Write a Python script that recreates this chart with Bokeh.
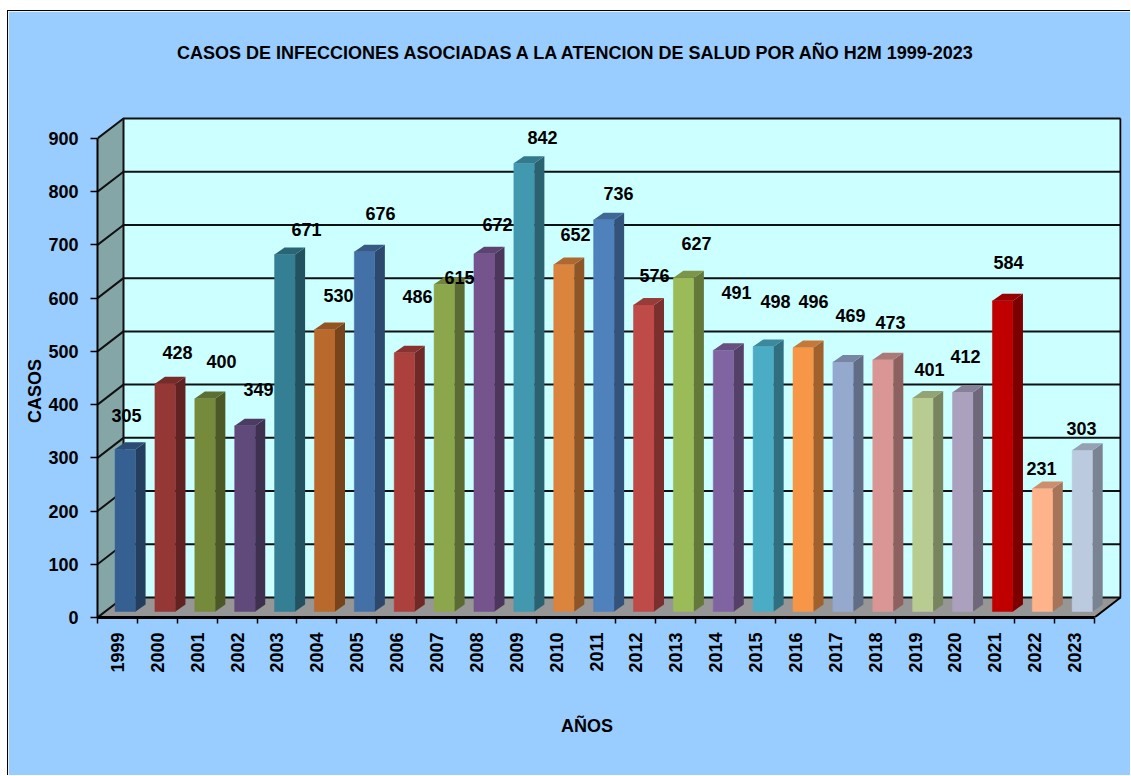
import math
from bokeh.plotting import figure
from bokeh.embed import file_html
from bokeh.resources import INLINE
from bokeh.models import ColumnDataSource, FixedTicker, LinearAxis, Range1d
from bokeh.core.properties import value

years = [1999,2000,2001,2002,2003,2004,2005,2006,2007,2008,2009,2010,2011,2012,2013,2014,2015,2016,2017,2018,2019,2020,2021,2022,2023]
casos = [305,428,400,349,671,530,676,486,615,672,842,652,736,576,627,491,498,496,469,473,401,412,584,231,303]
colors = ["#376092","#953735","#768A3C","#604A7B","#357F94","#B9692B","#4470A8","#AB403C","#8CA64C","#75548E",
          "#4198AF","#DB843D","#4F81BD","#BE4B48","#9BBB59","#8064A2","#4BACC6","#F79646","#95A8CE","#D99694",
          "#B8CC92","#ABA0BE","#C00000","#FFB38A","#BCCAE0"]
y_ticks = [0,100,200,300,400,500,600,700,800,900]
title_text = "CASOS DE INFECCIONES ASOCIADAS  A LA ATENCION DE SALUD POR AÑO H2M 1999-2023"
x_title = "AÑOS"
y_title = "CASOS"
FONT = "Liberation Sans"
FS = "18px"

# label anchor points as read on the page (pixels), the labels float irregularly in the source
label_px = [126,177,221,258,306,338,380,417,459,497,542,575,618,654,696,736,775,813,850,890,929,965,1008,1041,1081]
label_py = [415,352,361,389,229,295,213,296,277,224,137,234,193,275,243,292,301,301,315,322,369,356,262,468,428]

# scale and 3D projection
ux, uy = 39.88, 479/900
L, B = 97, 617
depth_x, depth_y = 26/ux, 20/uy
bar_left, bar_w = 0.44, 0.515
bar_base = 6/uy
side_x, side_y = 10/ux, 7/uy
n = len(years)

FW, FH = 1024, 503
p = figure(width=1123, height=765, output_backend="svg", toolbar_location=None,
           x_range=Range1d(0, FW/ux), y_range=Range1d(0, FH/uy),
           min_border_left=89, min_border_right=10, min_border_top=103, min_border_bottom=159,
           background_fill_color="#99CCFF", border_fill_color="#99CCFF",
           outline_line_color="#99CCFF", outline_line_width=2,
           margin=(10,0,0,7))
p.styles = {"border-left":"1px solid black","border-top":"1px solid black"}
p.grid.visible = False

# walls and floor
p.patch([0,depth_x,depth_x,0],[0,depth_y,900+depth_y,900],fill_color="#84A6A6",line_color=None)
p.quad(left=[depth_x],right=[n+depth_x],bottom=[depth_y],top=[900+depth_y],fill_color="#CCFFFF",line_color=None)
p.patch([0,n,n+depth_x,depth_x],[0,0,depth_y,depth_y],fill_color="#969696",line_color=None)

# gridlines
for v in y_ticks:
    p.line([0,depth_x,n+depth_x],[v,v+depth_y,v+depth_y],line_color="#111111",line_width=2)
p.line([depth_x,depth_x],[depth_y,900+depth_y],line_color="#111111",line_width=2)
p.line([n,n+depth_x,n+depth_x],[0,depth_y,900+depth_y],line_color="black",line_width=2)

def shade(c,f):
    r,g,b = int(c[1:3],16),int(c[3:5],16),int(c[5:7],16)
    return "#%02X%02X%02X"%(int(r*f),int(g*f),int(b*f))

lefts = [i+bar_left for i in range(n)]
rights = [l+bar_w for l in lefts]
tops = [v+bar_base for v in casos]
p.quad(left=lefts,right=rights,bottom=[bar_base]*n,top=tops,fill_color=colors,line_color=colors,line_width=0.5)
p.patches([[r,r+side_x,r+side_x,r] for r in rights],
          [[bar_base,bar_base+side_y,t+side_y,t] for t in tops],
          fill_color=[shade(c,0.65) for c in colors],line_color=None)
p.patches([[l,r,r+side_x,l+side_x] for l,r in zip(lefts,rights)],
          [[t,t,t+side_y,t+side_y] for t in tops],
          fill_color=[shade(c,0.8) for c in colors],line_color=None)

src = ColumnDataSource(dict(x=[(a-L)/ux for a in label_px],y=[(B-b)/uy for b in label_py],t=[str(v) for v in casos]))
p.text("x","y",text="t",source=src,text_font=value(FONT),text_font_style="bold",text_font_size=FS,
       text_color="black",text_align="center",text_baseline="middle")

# axes
p.yaxis.ticker = FixedTicker(ticks=y_ticks)
p.yaxis.bounds = (0,900)
p.yaxis.axis_line_width = 2
p.yaxis.axis_line_color = "black"
p.yaxis.major_tick_out = 7
p.yaxis.major_tick_in = 0
p.yaxis.minor_tick_line_color = None
p.yaxis.major_tick_line_color = "black"
p.yaxis.major_tick_line_width = 1.5
p.yaxis.major_label_standoff = 12
p.yaxis.major_label_text_font = FONT
p.yaxis.major_label_text_font_style = "bold"
p.yaxis.major_label_text_font_size = FS
p.yaxis.major_label_text_color = "black"

mid = [i+0.5 for i in range(n)]
p.xaxis.ticker = FixedTicker(ticks=mid, minor_ticks=list(range(n+1)))
p.xaxis.bounds = (0,n)
p.xaxis.axis_line_width = 3
p.xaxis.axis_line_color = "black"
p.xaxis.major_tick_line_color = None
p.xaxis.minor_tick_out = 6
p.xaxis.minor_tick_in = 0
p.xaxis.minor_tick_line_color = "black"
p.xaxis.minor_tick_line_width = 1.5
p.xaxis.major_label_overrides = {m:str(y) for m,y in zip(mid,years)}
p.xaxis.major_label_orientation = math.pi/2
p.xaxis.major_label_standoff = 9
p.xaxis.major_label_text_font = FONT
p.xaxis.major_label_text_font_style = "bold"
p.xaxis.major_label_text_font_size = FS
p.xaxis.major_label_text_color = "black"

def text_axis(label, pad, standoff):
    # an axis that only carries a label; the label sits at the frame's centre, so
    # trailing no-break spaces slide the visible text off-centre as in the reference
    return LinearAxis(axis_label=label + "\u00a0"*pad, ticker=FixedTicker(ticks=[]),
                      axis_line_color=None, major_tick_line_color=None, minor_tick_line_color=None,
                      major_tick_out=0, minor_tick_out=0, major_label_standoff=0,
                      axis_label_standoff=standoff, axis_label_text_font=FONT,
                      axis_label_text_font_style="bold", axis_label_text_font_size=FS,
                      axis_label_text_color="black")

p.add_layout(text_axis(title_text, 12, 52), "above")
p.add_layout(text_axis(x_title, 9, 40), "below")
p.add_layout(text_axis(y_title, 10, 1), "left")

open("out.html","w").write(file_html(p,INLINE))
